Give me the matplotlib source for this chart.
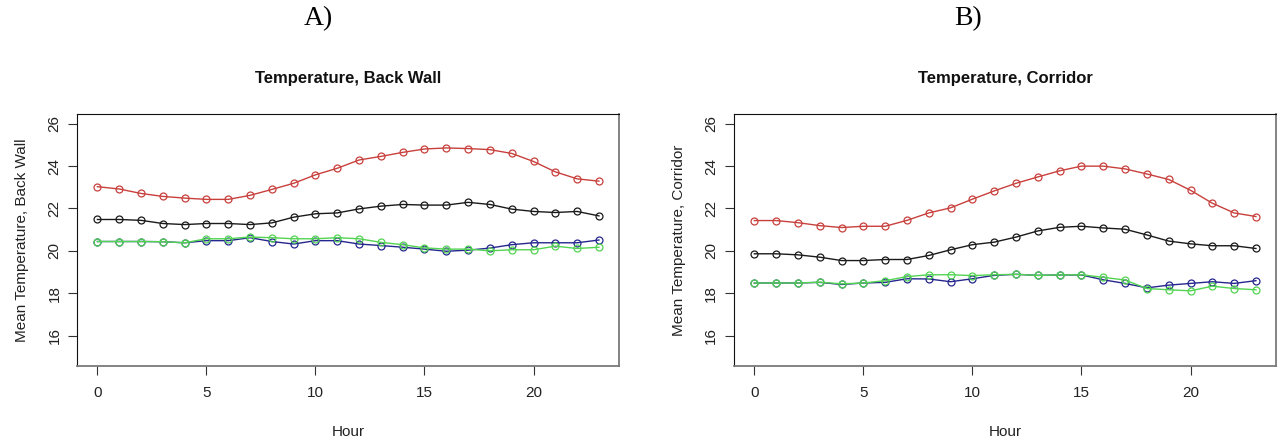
#!/usr/bin/env python
import matplotlib
matplotlib.use('Agg')
import matplotlib.pyplot as plt
import numpy as np

plt.rcParams['font.family'] = ['Liberation Sans', 'DejaVu Sans']

hours = np.arange(24)

# panel A: back wall
red_A = [23.03, 22.92, 22.71, 22.57, 22.49, 22.43, 22.43, 22.62, 22.90, 23.19, 23.59, 23.90,
         24.29, 24.46, 24.65, 24.81, 24.86, 24.83, 24.78, 24.60, 24.22, 23.73, 23.40, 23.29]
black_A = [21.48, 21.48, 21.44, 21.29, 21.24, 21.29, 21.29, 21.24, 21.32, 21.59, 21.75, 21.79,
           21.98, 22.11, 22.19, 22.16, 22.16, 22.29, 22.19, 21.97, 21.86, 21.81, 21.86, 21.65]
blue_A = [20.44, 20.44, 20.44, 20.43, 20.38, 20.48, 20.48, 20.62, 20.44, 20.32, 20.48, 20.48,
          20.32, 20.25, 20.17, 20.08, 19.98, 20.03, 20.13, 20.29, 20.38, 20.38, 20.38, 20.51]
green_A = [20.44, 20.44, 20.44, 20.43, 20.38, 20.57, 20.57, 20.65, 20.62, 20.57, 20.57, 20.62,
           20.57, 20.40, 20.29, 20.14, 20.08, 20.08, 20.00, 20.05, 20.05, 20.22, 20.11, 20.17]

# panel B: corridor
red_B = [21.43, 21.43, 21.33, 21.19, 21.10, 21.16, 21.16, 21.44, 21.79, 22.03, 22.44, 22.83,
         23.19, 23.49, 23.78, 24.00, 24.00, 23.87, 23.63, 23.37, 22.86, 22.25, 21.79, 21.62]
black_B = [19.86, 19.86, 19.81, 19.70, 19.54, 19.54, 19.59, 19.59, 19.78, 20.05, 20.29, 20.41,
           20.65, 20.94, 21.11, 21.16, 21.08, 21.02, 20.75, 20.46, 20.33, 20.24, 20.24, 20.11]
blue_B = [18.48, 18.48, 18.48, 18.51, 18.41, 18.48, 18.51, 18.68, 18.67, 18.54, 18.68, 18.84,
          18.89, 18.84, 18.86, 18.86, 18.63, 18.46, 18.25, 18.38, 18.46, 18.54, 18.46, 18.59]
green_B = [18.48, 18.48, 18.48, 18.52, 18.44, 18.48, 18.59, 18.78, 18.87, 18.87, 18.83, 18.87,
           18.89, 18.84, 18.86, 18.87, 18.75, 18.62, 18.22, 18.16, 18.11, 18.33, 18.22, 18.16]

colors = {'red': '#c8403c', 'black': '#1a1a1a', 'blue': '#26268f', 'green': '#52d452'}


def panel(ax, series, title, ylabel):
    for vals, c in series:
        ax.plot(hours, vals, '-o', color=colors[c], lw=1, ms=5,
                mfc='none', mew=0.9)
    ax.set_xlim(-0.92, 23.92)
    ax.set_ylim(14.56, 26.44)
    ax.set_xticks([0, 5, 10, 15, 20])
    ax.set_yticks([16, 18, 20, 22, 24, 26])
    ax.tick_params(direction='out', length=6.5, width=0.8, color='#333333',
                   labelsize=11, labelcolor='#222222')
    ax.tick_params(axis='y', pad=10)
    ax.tick_params(axis='x', pad=8)
    plt.setp(ax.get_yticklabels(), rotation=90, va='center', ha='center')
    for s in ['left', 'top']:
        ax.spines[s].set_color('#111111')
    for s in ['right', 'bottom']:
        ax.spines[s].set_color('#7a7a7a')
        ax.spines[s].set_linewidth(1.3)
    ax.set_title(title, fontsize=12, fontweight='bold', pad=23, color='#111111')
    ax.set_xlabel('Hour', fontsize=11, labelpad=18, color='#222222')
    ax.set_ylabel(ylabel, fontsize=11, labelpad=13, color='#222222')


fig = plt.figure(figsize=(12.85, 4.46), dpi=100)
axA = fig.add_axes([0.0602, 0.1794, 0.4215, 0.5639])
axB = fig.add_axes([0.5714, 0.1794, 0.4216, 0.5639])

panel(axA, [(black_A, 'black'), (red_A, 'red'), (blue_A, 'blue'), (green_A, 'green')],
      'Temperature, Back Wall', 'Mean Temperature, Back Wall')
panel(axB, [(black_B, 'black'), (red_B, 'red'), (blue_B, 'blue'), (green_B, 'green')],
      'Temperature, Corridor', 'Mean Temperature, Corridor')

fig.text(318 / 1285, 1 - 19 / 446, 'A)', fontsize=20, family='Liberation Serif',
         ha='center', va='center')
fig.text(968 / 1285, 1 - 19 / 446, 'B)', fontsize=20, family='Liberation Serif',
         ha='center', va='center')

fig.savefig('out.png', dpi=100)
